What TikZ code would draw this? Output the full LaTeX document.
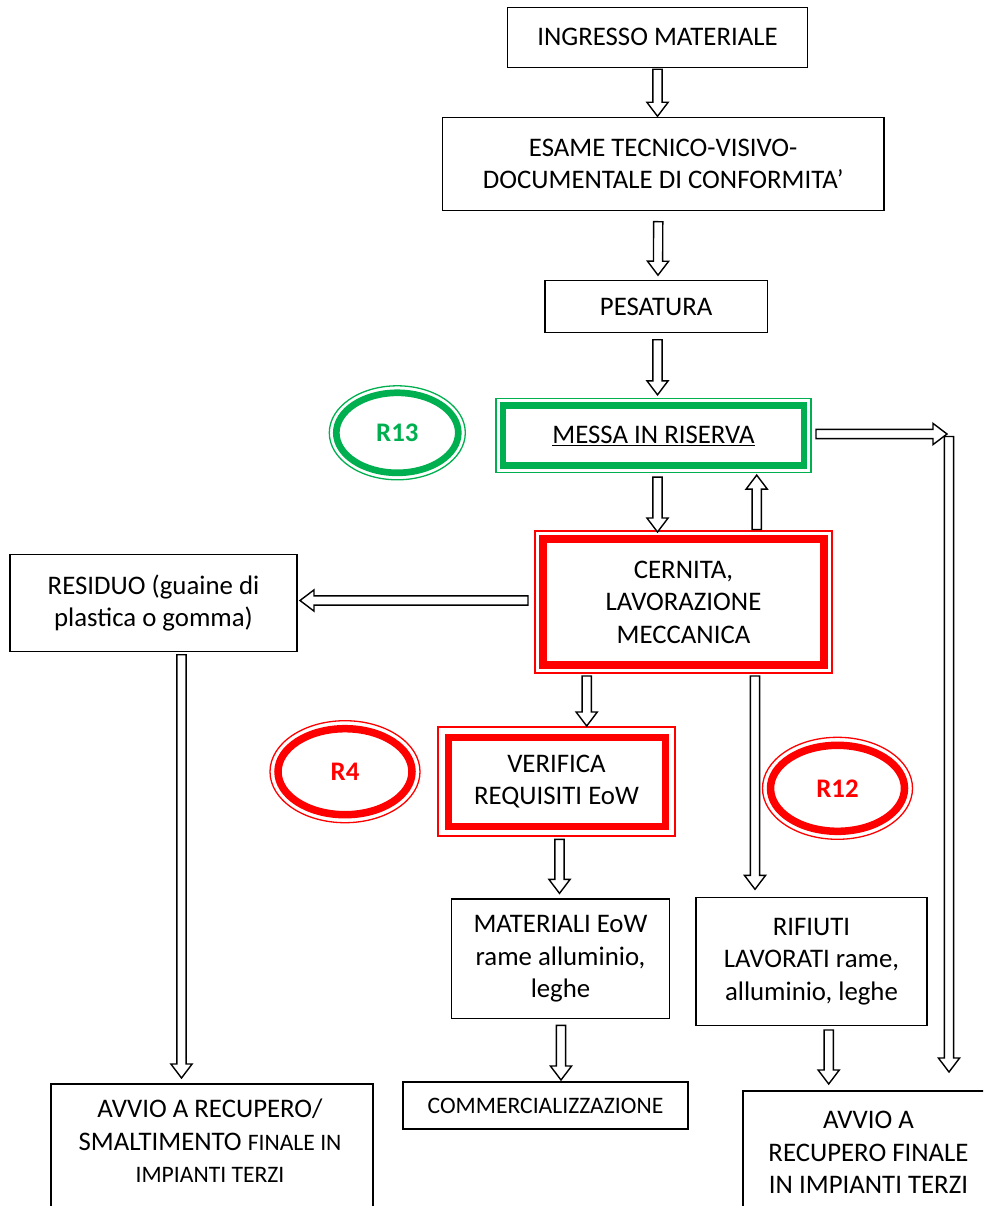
\documentclass[tikz,border=0pt]{standalone}
\usepackage{fontspec}
\setmainfont{Carlito}
\usetikzlibrary{calc,shapes.geometric}

\definecolor{okgreen}{RGB}{0,176,80}
\definecolor{okred}{RGB}{255,0,0}

\newcommand\bigtxt{\fontsize{26.8}{32.5}\selectfont}
\newcommand\smalltxt{\fontsize{23.6}{30}\selectfont}

% hollow block arrow from #1 to #2 (tip at #2)
\newcommand\blockarrow[2]{%
  \path #1 coordinate (ba-s) #2 coordinate (ba-e);
  \path ($(ba-e)!14pt!(ba-s)$) coordinate (ba-b);
  \draw[blockarr]
    ($(ba-s)!4.6pt!90:(ba-e)$) -- ($(ba-b)!4.6pt!90:(ba-e)$) --
    ($(ba-b)!10.6pt!90:(ba-e)$) -- (ba-e) --
    ($(ba-b)!10.6pt!-90:(ba-e)$) -- ($(ba-b)!4.6pt!-90:(ba-e)$) --
    ($(ba-s)!4.6pt!-90:(ba-e)$) -- cycle;
}

\tikzset{
  box/.style={draw=black, line width=1.4pt, inner sep=0pt, outer sep=0pt,
    align=center, font=\bigtxt, fill=white},
  thickframe/.style={draw=#1, line width=7pt, inner sep=0pt, outer sep=0pt,
    align=center, font=\bigtxt},
  thinframe/.style={draw=#1, line width=1.3pt},
  badge/.style={ellipse, draw=#1, line width=7.5pt, inner sep=0pt, outer sep=0pt,
    text=#1, font=\bfseries\bigtxt},
  blockarr/.style={draw=black, fill=white, line width=1.4pt, line join=miter},
}

\begin{document}
\begin{tikzpicture}[x=1pt, y=-1pt]
  \useasboundingbox (0,0) rectangle (983,1206);
  \fill[white] (0,0) rectangle (983,1206);
  \clip (0,0) rectangle (983,1206);

  % main column
  \node[box, minimum width=300pt, minimum height=60pt] (ingresso) at (657.5,37.3)
    {INGRESSO MATERIALE};
  \node[box, minimum width=441.7pt, minimum height=93.4pt] (esame) at (663.2,164)
    {ESAME TECNICO-VISIVO-\\DOCUMENTALE DI CONFORMITA’};
  \node[box, minimum width=222.3pt, minimum height=52pt] (pesatura) at (656.2,306.7)
    {PESATURA};

  % storage step (R13)
  \node[thickframe=okgreen, line width=6.7pt, minimum width=301pt, minimum height=60pt]
    (messa) at (653.5,435.8) {\underline{MESSA IN RISERVA}};
  \draw[thinframe=okgreen] ($(messa.north west)+(-7,-7)$) rectangle ($(messa.south east)+(7,7)$);
  \node[badge=okgreen, line width=6.7pt, minimum width=122pt, minimum height=80pt]
    (r13) at (397.3,432.8) {R13};
  \draw[thinframe=okgreen] (r13.center) ellipse [x radius=68pt, y radius=47pt];

  % sorting / mechanical processing
  \node[thickframe=okred, line width=7.5pt, minimum width=281pt, minimum height=126pt]
    (cernita) at (683.5,602) {CERNITA,\\LAVORAZIONE\\MECCANICA};
  \draw[thinframe=okred] ($(cernita.north west)+(-8,-8)$) rectangle ($(cernita.south east)+(8,8)$);

  \node[box, minimum width=287pt, minimum height=96.5pt] (residuo) at (153.5,603)
    {RESIDUO (guaine di\\plastica o gomma)};

  % EoW check (R4)
  \node[thickframe=okred, minimum width=217pt, minimum height=89pt]
    (verifica) at (556.5,781.5) {VERIFICA\\REQUISITI EoW};
  \draw[thinframe=okred] ($(verifica.north west)+(-10,-10)$) rectangle ($(verifica.south east)+(10,10)$);
  \node[badge=okred, minimum width=134pt, minimum height=86pt] (r4) at (345,771.7) {R4};
  \draw[thinframe=okred] (r4.center) ellipse [x radius=75pt, y radius=51pt];

  % R12 badge
  \node[badge=okred, minimum width=134pt, minimum height=86pt] (r12) at (837.5,788.3) {R12};
  \draw[thinframe=okred] (r12.center) ellipse [x radius=75pt, y radius=51pt];

  % outputs
  \node[box, minimum width=217.7pt, minimum height=119.3pt] (materiali) at (560.5,958.7)
    {MATERIALI EoW\\rame alluminio,\\leghe};
  \node[box, minimum width=231pt, minimum height=128pt] (rifiuti) at (811.5,961.5)
    {RIFIUTI\\LAVORATI rame,\\alluminio, leghe};
  \node[box, font=\smalltxt, minimum width=285pt, minimum height=47pt] (comm) at (545.5,1105.5)
    {COMMERCIALIZZAZIONE};

  \node[box, anchor=north, minimum width=322pt, minimum height=170pt] (avvioL) at (212,1084) {};
  \node[align=center, anchor=north, inner sep=0pt, font=\bigtxt] (avvioLtxt)
    at ($(avvioL.north)+(-2,15)$)
    {AVVIO A RECUPERO/\\
     SMALTIMENTO {\smalltxt FINALE IN}\\
     {\smalltxt IMPIANTI TERZI}};

  \node[box, anchor=north, minimum width=251pt, minimum height=170pt] (avvioR) at (868.5,1091) {};
  \node[align=center, anchor=north, inner sep=0pt, font=\bigtxt] (avvioRtxt)
    at ($(avvioR.north)+(0,20)$)
    {AVVIO A\\RECUPERO FINALE\\IN IMPIANTI TERZI};

  % connectors
  \blockarrow{($(ingresso.south)+(0,2)$)}{($(esame.north -| ingresso.south)+(0,-1)$)}
  \blockarrow{($(esame.south)+(-5,11)$)}{($(pesatura.north -| 658,0)+(0,-5.5)$)}
  \blockarrow{($(pesatura.south)+(1.3,7)$)}{($(messa.north -| 657.5,0)+(0,-11)$)}
  \blockarrow{($(messa.south)+(4,11.3)$)}{($(cernita.north -| 657.5,0)+(0,-7)$)}
  \blockarrow{($(cernita.north)+(73.2,-9.5)$)}{($(messa.south -| 756.7,0)+(0,9.3)$)}
  \coordinate (turn) at (947,434);
  \coordinate (turndown) at (949,436.5);
  \blockarrow{($(messa.east)+(12,-1.8)$)}{(turn)}
  \blockarrow{(turndown)}{($(avvioR.north -| turndown)+(0,-19)$)}
  \blockarrow{($(cernita.west)+(-15,-1.5)$)}{($(residuo.east |- 0,600.5)+(3,0)$)}
  \blockarrow{($(residuo.south)+(28,3.5)$)}{($(avvioL.north -| 181.5,0)+(0,-6)$)}
  \blockarrow{($(cernita.south)+(-96.8,11)$)}{($(verifica.north -| 586.7,0)+(0,-11)$)}
  \blockarrow{($(cernita.south)+(71.5,11)$)}{($(rifiuti.north -| 755,0)+(0,-8.2)$)}
  \blockarrow{($(verifica.south)+(3,13.3)$)}{($(materiali.north -| 559.5,0)+(0,-5.7)$)}
  \blockarrow{($(materiali.south)+(0.5,7)$)}{($(comm.north -| 561,0)+(0,-2)$)}
  \blockarrow{($(rifiuti.south)+(17.2,4.5)$)}{($(avvioR.north -| 828.7,0)+(0,-7)$)}
\end{tikzpicture}
\end{document}
